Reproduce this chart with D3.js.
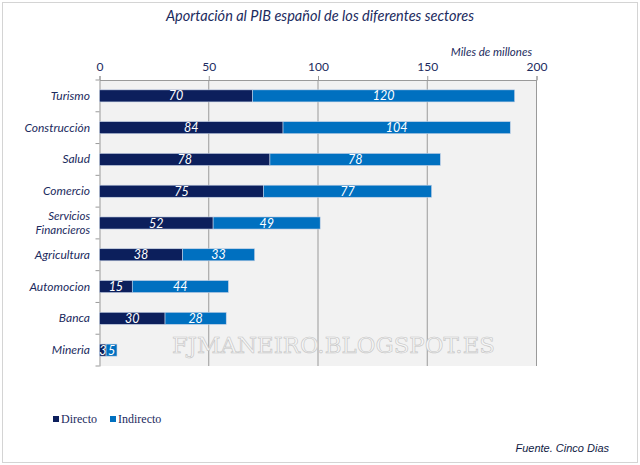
<!DOCTYPE html>
<html><head><meta charset="utf-8">
<script src="https://cdn.jsdelivr.net/npm/d3@7"></script>
<style>
body{margin:0;background:#fff;}
svg{display:block;font-family:Lato,"Open Sans",sans-serif;}
</style></head>
<body><svg id="c" width="640" height="465"></svg>
<script>
const categories = ["Turismo","Construcción","Salud","Comercio","Servicios Financieros","Agricultura","Automocion","Banca","Mineria"];
const directo = [70,84,78,75,52,38,15,30,3];
const indirecto = [120,104,78,77,49,33,44,28,5];
const seriesNames = ["Directo","Indirecto"];
const xTicks = [0,50,100,150,200];

const colors = ["#0c1f5c","#0070c0"];
const textCol = "#1c2b5e";
const svg = d3.select("#c");

// outer frame
svg.append("rect").attr("x",2.5).attr("y",2.5).attr("width",635).attr("height",460)
  .attr("fill","#fff").attr("stroke","#d4d4d4").attr("stroke-width",1);

const L=99.5, R=536.5, T=80, B=366;
const x = d3.scaleLinear().domain([0,200]).range([L,R]);
const y = d3.scaleBand().domain(categories).range([T,B]).paddingInner(0.62).paddingOuter(0.31);

svg.append("rect").attr("x",L).attr("y",T).attr("width",R-L).attr("height",B-T).attr("fill","#f2f2f2");

// gridlines
svg.append("g").selectAll("line").data(xTicks.slice(1)).join("line")
  .attr("x1",d=>x(d)).attr("x2",d=>x(d)).attr("y1",T).attr("y2",B)
  .attr("stroke","#9a9a9a").attr("stroke-width",1);

// watermark
svg.append("text").attr("x",172).attr("y",353).text("FJMANEIRO.BLOGSPOT.ES")
  .attr("font-family","'DejaVu Serif',serif").attr("font-size",22)
  .attr("textLength",323).attr("lengthAdjust","spacingAndGlyphs")
  .attr("fill","#f6f6f6").attr("stroke","#c4c4c4").attr("stroke-width",0.6);

// top axis
const xAxis = d3.axisTop(x).tickValues(xTicks).tickSize(4).tickPadding(5);
const gx = svg.append("g").attr("transform",`translate(0,${T})`).call(xAxis);
gx.select(".domain").attr("stroke","#9a9a9a");
gx.selectAll(".tick line").attr("stroke","#9a9a9a");
gx.selectAll(".tick text").attr("fill",textCol).attr("font-size",12).attr("font-family","Lato,sans-serif");

svg.append("text").attr("x",532).attr("y",56).attr("text-anchor","end")
  .attr("font-style","italic").attr("font-size",11.5).attr("fill",textCol).text("Miles de millones");

// left axis
const yAxis = d3.axisLeft(y).tickSize(0).tickFormat("");
const gy = svg.append("g").attr("transform",`translate(${L},0)`).call(yAxis);
gy.select(".domain").attr("stroke","#9a9a9a");
// band-boundary ticks
const bounds = d3.range(categories.length+1).map(i=>T+i*(B-T)/categories.length);
svg.append("g").selectAll("line").data(bounds).join("line")
  .attr("x1",L-4).attr("x2",L).attr("y1",d=>d).attr("y2",d=>d)
  .attr("stroke","#9a9a9a");

// category labels
const catG = svg.append("g");
categories.forEach(c=>{
  const cy = y(c)+y.bandwidth()/2;
  const t = catG.append("text").attr("x",90).attr("text-anchor","end")
    .attr("font-style","italic").attr("font-size",12).attr("fill",textCol);
  if(c==="Servicios Financieros"){
    catG.append("text").attr("x",90).attr("y",cy-6+3).attr("text-anchor","end")
      .attr("font-style","italic").attr("font-size",11.5).attr("fill",textCol).text("Servicios");
    t.attr("font-size",11.5).attr("y",cy+6+5).text("Financieros");
  } else {
    t.attr("y",cy+4).text(c);
  }
});

// bars
const stackData = categories.map((c,i)=>({cat:c,Directo:directo[i],Indirecto:indirecto[i]}));
const stacked = d3.stack().keys(seriesNames)(stackData);
const bh = y.bandwidth();
stacked.forEach((s,si)=>{
  const g = svg.append("g");
  g.selectAll("rect").data(s).join("rect")
    .attr("x",d=>x(d[0])).attr("y",d=>y(d.data.cat))
    .attr("width",d=>x(d[1])-x(d[0])).attr("height",bh)
    .attr("fill",colors[si]).attr("stroke","#c7d3e6").attr("stroke-width",0.6);
  g.selectAll("text").data(s).join("text")
    .attr("x",d=>(x(d[0])+x(d[1]))/2).attr("y",d=>y(d.data.cat)+bh/2+4.5)
    .attr("text-anchor","middle").attr("font-style","italic").attr("font-size",12.5)
    .attr("fill","#fff").text(d=>d[1]-d[0]);
});

// title
svg.append("text").attr("x",320).attr("y",21).attr("text-anchor","middle")
  .attr("font-style","italic").attr("font-size",14.5).attr("fill",textCol)
  .text("Aportación al PIB español de los diferentes sectores");

// legend
const leg = svg.append("g").attr("font-family","'Liberation Serif','DejaVu Serif',serif").attr("font-size",12).attr("fill",textCol);
const legX = [53,110];
seriesNames.forEach((n,i)=>{
  leg.append("rect").attr("x",legX[i]).attr("y",416).attr("width",6).attr("height",6).attr("fill",colors[i]);
  leg.append("text").attr("x",legX[i]+8).attr("y",423).text(n);
});

// source
svg.append("text").attr("x",609).attr("y",452).attr("text-anchor","end")
  .attr("font-family","'Liberation Sans',Arial,sans-serif").attr("font-style","italic")
  .attr("font-size",11).attr("fill","#0f1a44").text("Fuente. Cinco Dias");
</script></body></html>
